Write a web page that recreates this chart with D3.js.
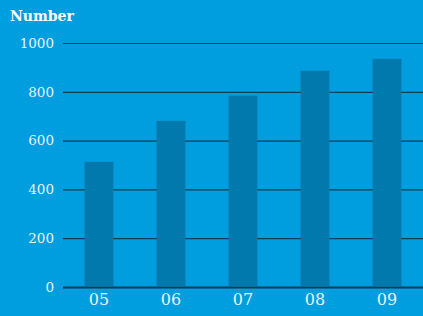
<!DOCTYPE html>
<html>
<head>
<meta charset="utf-8">
<script src="https://cdn.jsdelivr.net/npm/d3@7"></script>
<style>
  body { margin: 0; background: #009ddf; }
  svg { display: block; }
</style>
</head>
<body>
<div id="chart"></div>
<script>
const years = ["05", "06", "07", "08", "09"];
const counts = [513, 681, 784, 886, 935];
const yTicks = [0, 200, 400, 600, 800, 1000];

const width = 423, height = 316;
const margin = {top: 43, right: 0, bottom: 29, left: 63};

var svg = d3.select("#chart")
    .append("svg")
    .attr("width", width)
    .attr("height", height)

svg.append("rect")
    .attr("width", width)
    .attr("height", height)
    .attr("fill", "#009ddf")

var x = d3.scaleBand()
    .domain(years)
    .range([margin.left, width - margin.right])
    .paddingInner(0.6)
    .paddingOuter(0.3)

var y = d3.scaleLinear()
    .domain([0, 1000])
    .range([height - margin.bottom, margin.top])

// grid lines + left labels
var yAxis = svg.append("g")
    .attr("transform", "translate(" + margin.left + ",0)")
    .call(d3.axisLeft(y).tickValues(yTicks).tickFormat(d3.format("d"))
        .tickSize(-(width - margin.left)).tickPadding(9))

yAxis.select(".domain").remove()
yAxis.selectAll(".tick line")
    .attr("stroke", "#0b3c55")
    .attr("stroke-width", d => d == 0 ? 2 : 1.2)
yAxis.selectAll(".tick text")
    .attr("fill", "#e8f4fb")
    .style("font-family", "DejaVu Serif")
    .style("font-size", "13.5px")

// bars
svg.selectAll("rect.bar")
    .data(counts)
    .enter()
    .append("rect")
    .attr("class", "bar")
    .attr("x", (d, i) => x(years[i]))
    .attr("width", x.bandwidth())
    .attr("y", d => y(d))
    .attr("height", d => y(0) - y(d) - 1)
    .attr("fill", "#0179ad")

// x labels
var xAxis = svg.append("g")
    .attr("transform", "translate(0," + y(0) + ")")
    .call(d3.axisBottom(x).tickSize(0).tickPadding(7))

xAxis.select(".domain").remove()
xAxis.selectAll(".tick text")
    .attr("fill", "#e8f4fb")
    .style("font-family", "DejaVu Serif")
    .style("font-size", "16px")

svg.append("text")
    .attr("x", 10)
    .attr("y", 21)
    .attr("fill", "#ffffff")
    .style("font-family", "DejaVu Serif")
    .style("font-weight", "bold")
    .style("font-size", "14px")
    .text("Number")
</script>
</body>
</html>
